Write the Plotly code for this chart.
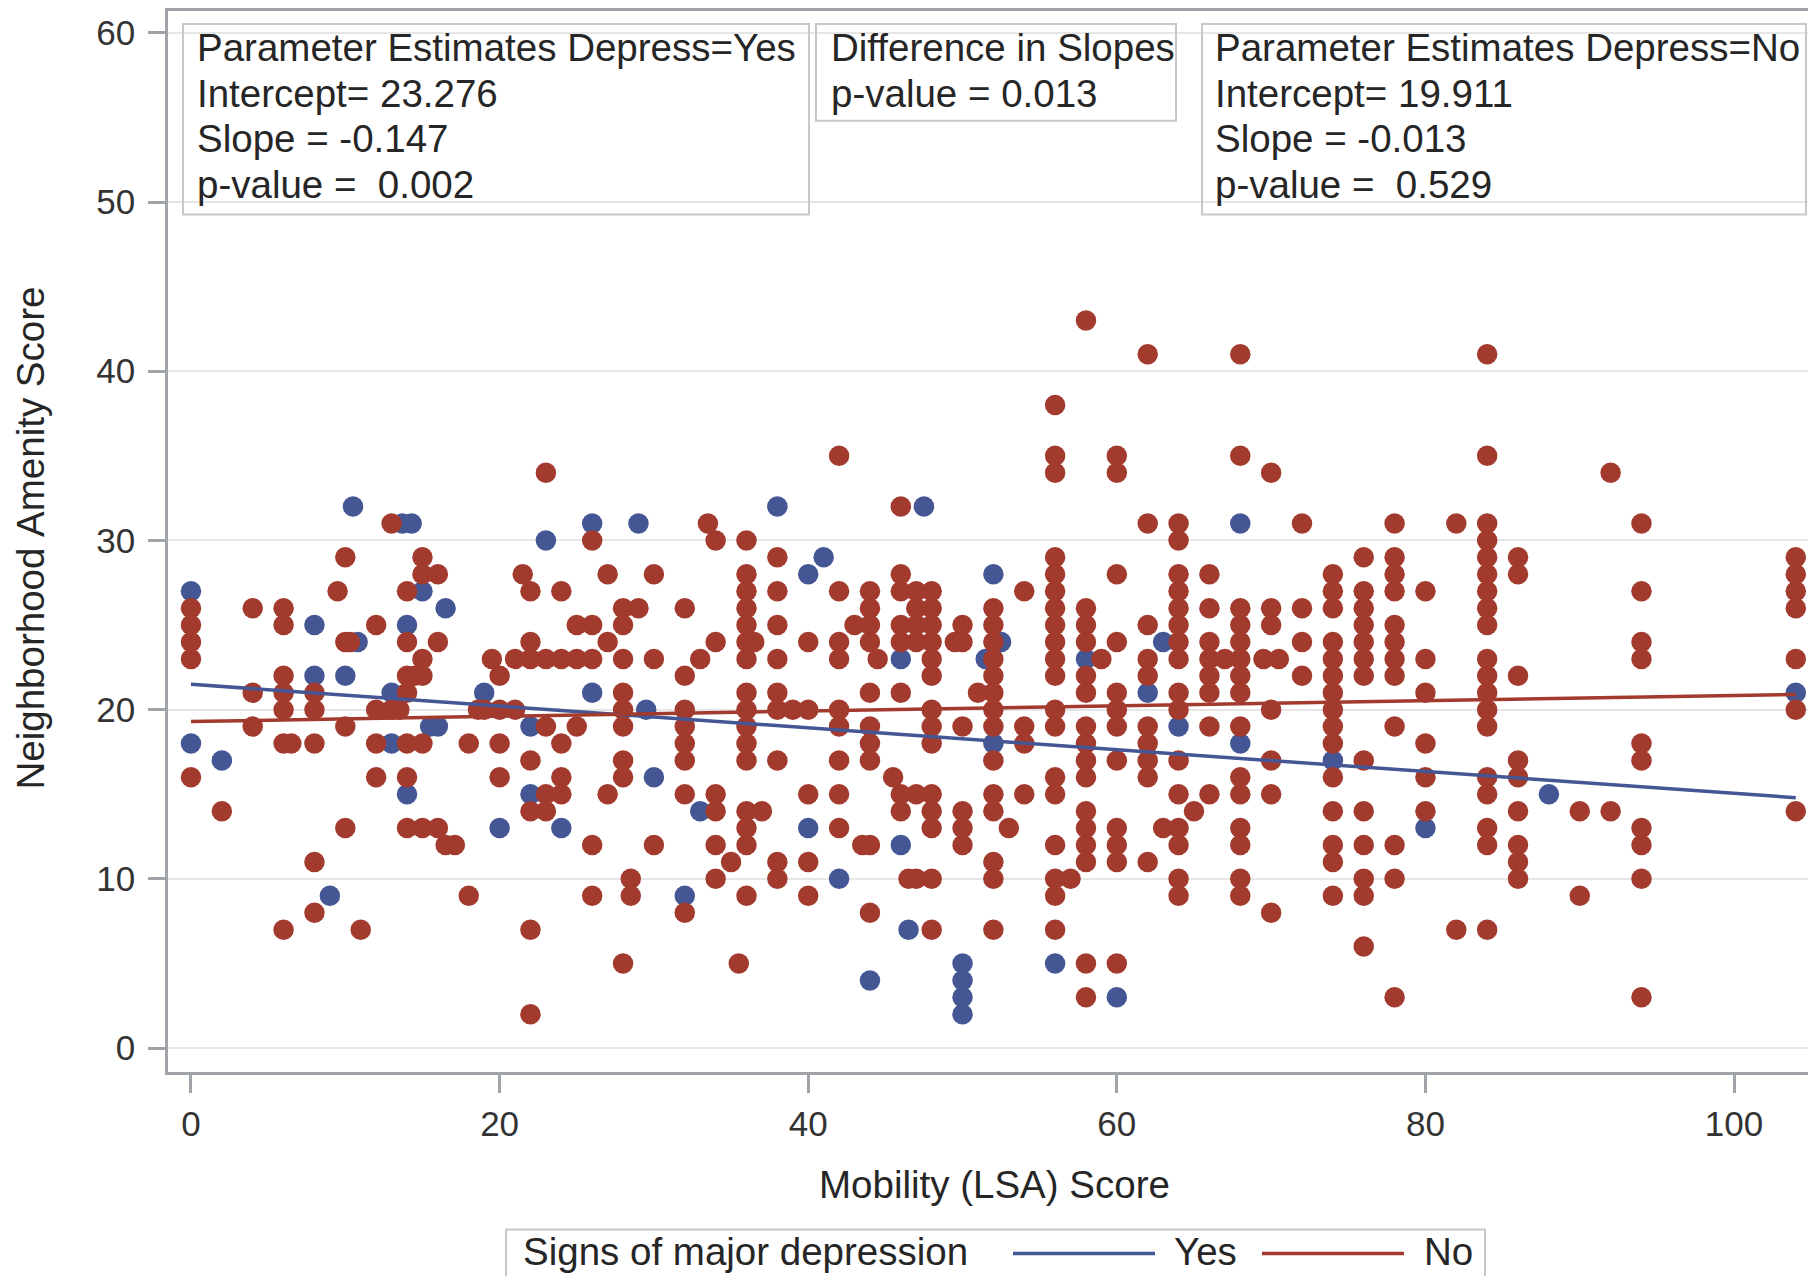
import plotly.graph_objects as go

# ---------------- data ----------------
yes_x = [0, 0, 2, 8, 8, 9, 10, 10.5, 10.8, 13, 13, 13.7, 14.3, 14, 14, 15, 15.5, 16, 16.5, 19, 20, 22, 22, 23, 24,
         26, 26, 29, 29.5, 30, 32, 33, 38, 40, 40, 41, 42, 44, 46, 46, 46.5, 47.5, 50, 50, 50, 50, 51.5, 52, 52, 52.5,
         56, 58, 60, 62, 63, 64, 68, 68, 74, 80, 88, 104]
yes_y = [27, 18, 17, 25, 22, 9, 22, 32, 24, 21, 18, 31, 31, 25, 15, 27, 19, 19, 26, 21, 13, 19, 15, 30, 13,
         31, 21, 31, 20, 16, 9, 14, 32, 28, 13, 29, 10, 4, 23, 12, 7, 32, 5, 4, 3, 2, 23, 28, 18, 24,
         5, 23, 3, 21, 24, 19, 31, 18, 17, 13, 15, 21]

no_col_x = [0, 2, 4, 6, 6.5, 8, 9.5, 10, 10.3, 11, 12, 13, 13.5, 14, 14.5, 15, 16, 16.5, 17.1, 18, 18.6, 19, 19.5,
            20, 21, 21.5, 22, 23, 24, 25, 26, 27, 28, 28.5, 29, 30, 32, 33, 33.5, 34, 35, 35.5, 36, 36.5, 37, 38,
            39, 40, 42, 43, 43.5, 44, 44.5, 45.5, 46, 46.5, 47, 48, 49.5, 50, 51, 52, 53, 54, 56, 57, 58, 59, 60,
            62, 63, 64, 65, 66, 67, 68, 69.5, 70, 70.5, 72, 74, 76, 78, 80, 82, 84, 86, 90, 92, 94, 104]
no_col_y = [
    [26, 25, 24, 23, 16], [14], [26, 21, 19], [26, 25, 22, 21, 20, 18, 7], [18], [21, 20, 18, 11, 8], [27],
    [29, 24, 19, 13], [24], [7], [25, 20, 18, 16], [31, 20], [20], [27, 24, 22, 21, 18, 16, 13], [22],
    [29, 28, 23, 22, 18, 13], [28, 24, 13], [12], [12], [18, 9], [20], [20], [23],
    [22, 20, 18, 16], [23, 20], [28], [27, 24, 23, 17, 14, 7, 2], [34, 23, 19, 15, 14], [27, 23, 18, 16, 15],
    [25, 23, 19], [30, 25, 23, 12, 9], [28, 24, 15], [26, 25, 23, 21, 20, 19, 17, 16, 5], [10, 9], [26],
    [28, 23, 12], [26, 22, 20, 19, 18, 17, 15, 8], [23], [31], [30, 24, 15, 14, 12, 10], [11], [5],
    [30, 28, 27, 26, 25, 24, 23, 21, 20, 19, 18, 17, 14, 13, 12, 9], [24], [14],
    [29, 27, 25, 23, 21, 20, 17, 11, 10], [20], [24, 20, 15, 11, 9], [35, 27, 24, 23, 20, 19, 17, 15, 13],
    [25], [12], [27, 26, 25, 24, 21, 19, 18, 17, 12, 8], [23], [16], [32, 28, 27, 25, 24, 21, 15, 14], [10],
    [27, 26, 25, 24, 15, 10], [27, 26, 25, 24, 23, 22, 20, 19, 18, 15, 14, 13, 10, 7], [24],
    [25, 24, 19, 14, 13, 12], [21], [26, 25, 24, 23, 22, 21, 20, 19, 17, 15, 14, 11, 10, 7], [13],
    [27, 19, 18, 15], [38, 35, 34, 29, 28, 27, 26, 25, 24, 23, 22, 20, 19, 16, 15, 12, 10, 9, 7], [10],
    [43, 26, 25, 24, 22, 21, 19, 18, 17, 16, 14, 13, 12, 11, 5, 3], [23],
    [35, 34, 28, 24, 21, 20, 19, 17, 13, 12, 11, 5], [41, 31, 25, 23, 22, 19, 18, 17, 16, 11], [13],
    [31, 30, 28, 27, 26, 25, 24, 23, 21, 20, 17, 15, 13, 12, 10, 9], [14], [28, 26, 24, 23, 22, 21, 19, 15],
    [23], [41, 35, 26, 25, 24, 23, 22, 21, 19, 16, 15, 13, 12, 10, 9], [23], [34, 26, 25, 20, 17, 15, 8], [23],
    [31, 26, 24, 22], [28, 27, 26, 24, 23, 22, 21, 20, 19, 18, 16, 14, 12, 11, 9],
    [29, 27, 26, 25, 24, 23, 22, 17, 14, 12, 10, 9, 6], [31, 29, 28, 27, 25, 24, 23, 22, 19, 12, 10, 3],
    [27, 23, 21, 18, 16, 14], [31, 7], [41, 35, 31, 30, 29, 28, 27, 26, 25, 23, 22, 21, 20, 19, 16, 15, 13, 12, 7],
    [29, 28, 22, 17, 16, 14, 12, 11, 10], [14, 9], [34, 14], [31, 27, 24, 23, 18, 17, 13, 12, 10, 3],
    [29, 28, 27, 26, 23, 20, 14],
]

fit_x = [0, 104]
yes_fit = [21.5, 14.8]
no_fit = [19.3, 20.9]

x_ticks = [0, 20, 40, 60, 80, 100]
y_ticks = [0, 10, 20, 30, 40, 50, 60]

box_yes = ["Parameter Estimates Depress=Yes", "Intercept= 23.276", "Slope = -0.147", "p-value =  0.002"]
box_diff = ["Difference in Slopes", "p-value = 0.013"]
box_no = ["Parameter Estimates Depress=No", "Intercept= 19.911", "Slope = -0.013", "p-value =  0.529"]

x_title = "Mobility (LSA) Score"
y_title = "Neighborhood Amenity Score"
legend_title = "Signs of major depression"
legend_labels = ["Yes", "No"]

BLUE = "#445694"
RED = "#A23A2E"
FONT = "Liberation Sans, Arial, sans-serif"
TXT = "#262626"

no_x, no_y = [], []
for cx, ys in zip(no_col_x, no_col_y):
    for v in ys:
        no_x.append(cx)
        no_y.append(v)

# ---------------- geometry (page pixels; the page body adds an 8px margin) ----------------
OFF = 8
W, H = 1816 - OFF, 1276 - OFF
L, R, T, B = 168, 1816, 8, 1072   # plot area in page pixels


def px(x):
    return (x - L) / (R - L)


def py(y):
    return (B - y) / (B - T)


fig = go.Figure()
fig.add_trace(go.Scatter(x=yes_x, y=yes_y, mode="markers", marker=dict(color=BLUE, size=20.5, line=dict(width=0)),
                         showlegend=False, hoverinfo="skip"))
fig.add_trace(go.Scatter(x=no_x, y=no_y, mode="markers", marker=dict(color=RED, size=20.5, line=dict(width=0)),
                         showlegend=False, hoverinfo="skip"))
fig.add_trace(go.Scatter(x=fit_x, y=yes_fit, mode="lines", line=dict(color=BLUE, width=3.5), showlegend=False))
fig.add_trace(go.Scatter(x=fit_x, y=no_fit, mode="lines", line=dict(color=RED, width=3.5), showlegend=False))

shapes = []
annotations = []


def add_box(x0, y0, x1, y1, color="#c8c8c8", width=2):
    shapes.append(dict(type="rect", xref="paper", yref="paper", x0=px(x0), x1=px(x1), y0=py(y1), y1=py(y0),
                       line=dict(color=color, width=width), fillcolor="rgba(255,255,255,0)", layer="above"))


def add_text(x, y, text, size=38.5, anchor="left", angle=0, color=TXT):
    annotations.append(dict(xref="paper", yref="paper", x=px(x), y=py(y), text=text.replace(" ", "\u00a0"),
                            showarrow=False, xanchor=anchor, yanchor="middle", textangle=angle,
                            font=dict(family=FONT, size=size, color=color)))


line_centres = [45, 90.5, 136, 182]
add_box(183, 21, 809, 212)
for t, yc in zip(box_yes, line_centres):
    add_text(195, yc, t)
add_box(816, 21, 1176, 118)
for t, yc in zip(box_diff, line_centres):
    add_text(829, yc, t)
add_box(1202, 21, 1806, 212)
for t, yc in zip(box_no, line_centres):
    add_text(1213, yc, t)

# axis titles
add_text(994, 1185, x_title, anchor="center")
add_text(31, 537, y_title, anchor="center", angle=-90)

# legend (manual)
add_box(506, 1230, 1485, 1300, color="#c8c8c8", width=2)
add_text(521, 1252, legend_title)
shapes.append(dict(type="line", xref="paper", yref="paper", x0=px(1013), x1=px(1155), y0=py(1254), y1=py(1254),
                   line=dict(color=BLUE, width=3.5)))
add_text(1172, 1252, legend_labels[0])
shapes.append(dict(type="line", xref="paper", yref="paper", x0=px(1262), x1=px(1404), y0=py(1254), y1=py(1254),
                   line=dict(color=RED, width=3.5)))
add_text(1422, 1252, legend_labels[1])

AX = "#a0a4a8"
fig.update_layout(
    width=W, height=H,
    margin=dict(l=L - OFF, r=0, t=T - OFF, b=(1276 - B), pad=0),
    paper_bgcolor="white", plot_bgcolor="white",
    showlegend=False,
    shapes=shapes, annotations=annotations,
    font=dict(family=FONT, color=TXT),
    xaxis=dict(range=[-1.49, 105.31], tickvals=x_ticks, ticktext=[str(v) for v in x_ticks],
               showgrid=False, zeroline=False, showline=True, mirror=True, linecolor=AX, linewidth=2.5,
               ticks="outside", ticklen=18, tickwidth=2.5, tickcolor=AX, ticklabelstandoff=1,
               tickfont=dict(family=FONT, size=35, color="#333333")),
    yaxis=dict(range=[-1.414, 61.29], tickvals=y_ticks, ticktext=[str(v) for v in y_ticks],
               showgrid=True, gridcolor="#e6e6e6", gridwidth=2, zeroline=False,
               showline=True, linecolor=AX, linewidth=2.5,
               ticks="outside", ticklen=17, tickwidth=2.5, tickcolor=AX, ticklabelstandoff=6,
               tickfont=dict(family=FONT, size=35, color="#333333")),
)

fig.write_html("out.html")
